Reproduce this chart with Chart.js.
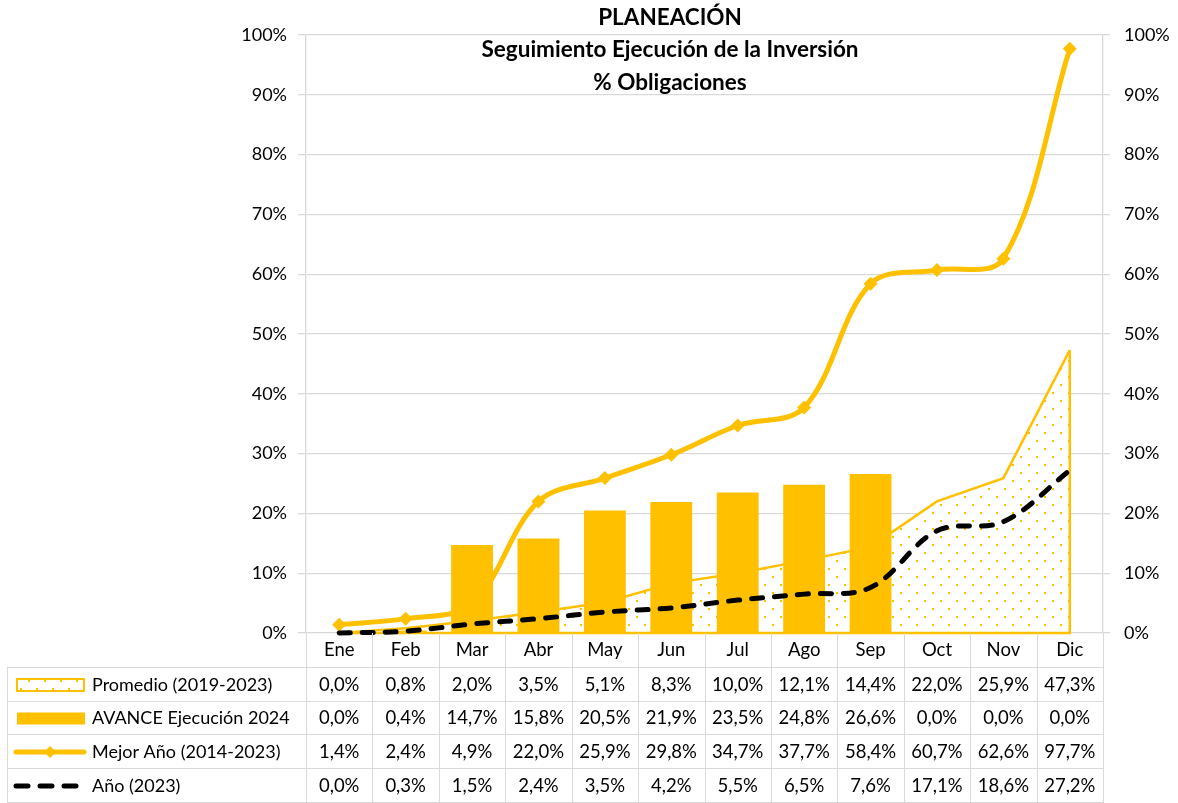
<!DOCTYPE html>
<html>
<head>
<meta charset="utf-8">
<script src="https://cdn.jsdelivr.net/npm/chart.js@4"></script>
<style>
html,body{margin:0;padding:0;background:#fff;}
#wrap{position:relative;width:1178px;height:803px;}
</style>
</head>
<body>
<div id="wrap"><canvas id="c" width="1178" height="803"></canvas></div>
<script>
const categories = ['Ene','Feb','Mar','Abr','May','Jun','Jul','Ago','Sep','Oct','Nov','Dic'];
const promedio = [0.0, 0.8, 2.0, 3.5, 5.1, 8.3, 10.0, 12.1, 14.4, 22.0, 25.9, 47.3];
const avance2024 = [0.0, 0.4, 14.7, 15.8, 20.5, 21.9, 23.5, 24.8, 26.6, 0.0, 0.0, 0.0];
const mejorAnio = [1.4, 2.4, 4.9, 22.0, 25.9, 29.8, 34.7, 37.7, 58.4, 60.7, 62.6, 97.7];
const anio2023 = [0.0, 0.3, 1.5, 2.4, 3.5, 4.2, 5.5, 6.5, 7.6, 17.1, 18.6, 27.2];
const seriesNames = ['Promedio (2019-2023)', 'AVANCE Ejecución 2024', 'Mejor Año (2014-2023)', 'Año (2023)'];
const titleLines = ['PLANEACIÓN', 'Seguimiento Ejecución de la Inversión', '% Obligaciones'];
const yTicks = [0,10,20,30,40,50,60,70,80,90,100];

const YELLOW = '#FFC000';
const GRID = '#d9d9d9';
const FONT = 'Lato, "Open Sans", sans-serif';

function makePattern(ctx){
  const p = document.createElement('canvas');
  p.width = 16; p.height = 16;
  const g = p.getContext('2d');
  g.fillStyle = '#ffffff';
  g.fillRect(0,0,16,16);
  g.fillStyle = YELLOW;
  g.fillRect(4,0,2,2);
  g.fillRect(12,8,2,2);
  return ctx.createPattern(p, 'repeat');
}

const canvas = document.getElementById('c');
const ctx = canvas.getContext('2d');
const pattern = makePattern(ctx);

function fmt(v){ return v.toFixed(1).replace('.', ',') + '%'; }

const areaBorderPlugin = {
  id: 'areaBorder',
  afterDatasetDraw(chart, args){
    if (args.index !== 0) return;
    const meta = chart.getDatasetMeta(0);
    const pts = meta.data;
    const y0 = chart.scales.y.getPixelForValue(0);
    const c = chart.ctx;
    c.save();
    c.strokeStyle = YELLOW;
    c.lineWidth = 2.5;
    c.beginPath();
    const last = pts[pts.length-1];
    c.moveTo(last.x, last.y);
    c.lineTo(last.x, y0);
    c.lineTo(pts[0].x, y0);
    c.stroke();
    c.restore();
  }
};

const tablePlugin = {
  id: 'tableAndTitle',
  afterDraw(chart){
    const c = chart.ctx;
    const xs = chart.scales.x;
    const area = chart.chartArea;
    const n = categories.length;
    const cw = (area.right - area.left) / n;
    const top = area.bottom;
    const rowTops = [668, 702, 735, 769, 803];
    const legendLeft = 7;
    c.save();
    // title
    c.fillStyle = '#000';
    c.textAlign = 'center';
    c.textBaseline = 'middle';
    c.font = 'bold 22.5px ' + FONT;
    const titleY = [18, 50, 83];
    titleLines.forEach((t,i)=> c.fillText(t, 670, titleY[i]));

    // table grid
    c.strokeStyle = GRID;
    c.lineWidth = 1;
    c.beginPath();
    for (let i = 0; i <= n; i++){
      const x = Math.round(area.left + i*cw) + 0.5;
      c.moveTo(x, top); c.lineTo(x, 803);
    }
    rowTops.forEach(y=>{
      const yy = Math.round(y) - 0.5;
      c.moveTo(legendLeft, yy); c.lineTo(area.right, yy);
    });
    c.moveTo(legendLeft + 0.5, rowTops[0]); c.lineTo(legendLeft + 0.5, 803);
    c.stroke();

    // month header
    c.fillStyle = '#000';
    c.font = '18.5px ' + FONT;
    c.textAlign = 'center';
    categories.forEach((m,i)=> c.fillText(m, xs.getPixelForValue(i), 650));

    // rows
    const rows = [promedio, avance2024, mejorAnio, anio2023];
    rows.forEach((vals, r)=>{
      const yc = (rowTops[r] + rowTops[r+1]) / 2;
      c.textAlign = 'center';
      vals.forEach((v,i)=> c.fillText(fmt(v), xs.getPixelForValue(i), yc));
      c.textAlign = 'left';
      c.font = '18px ' + FONT;
      c.fillText(seriesNames[r], 92, yc);
      c.font = '18.5px ' + FONT;
      // legend keys
      if (r === 0){
        c.fillStyle = pattern;
        c.fillRect(17, yc-6, 67, 12);
        c.strokeStyle = YELLOW; c.lineWidth = 2;
        c.strokeRect(17, yc-6, 67, 12);
        c.fillStyle = '#000';
      } else if (r === 1){
        c.fillStyle = YELLOW;
        c.fillRect(17, yc-6, 68, 12);
        c.fillStyle = '#000';
      } else if (r === 2){
        c.strokeStyle = YELLOW; c.lineWidth = 5; c.lineCap = 'round';
        c.beginPath(); c.moveTo(16, yc); c.lineTo(84, yc); c.stroke();
        c.fillStyle = YELLOW;
        c.beginPath();
        c.moveTo(50, yc-6); c.lineTo(56, yc); c.lineTo(50, yc+6); c.lineTo(44, yc); c.closePath(); c.fill();
        c.fillStyle = '#000';
      } else {
        c.strokeStyle = '#000'; c.lineWidth = 5; c.lineCap = 'round';
        c.setLineDash([12, 12]);
        c.beginPath(); c.moveTo(16, yc); c.lineTo(84, yc); c.stroke();
        c.setLineDash([]);
      }
    });
    c.restore();
  }
};

new Chart(canvas, {
  data: {
    labels: categories,
    datasets: [
      {
        type: 'line', label: seriesNames[0], data: promedio,
        borderColor: YELLOW, borderWidth: 2.5, backgroundColor: pattern,
        fill: 'origin', tension: 0, pointRadius: 0, order: 4
      },
      {
        type: 'bar', label: seriesNames[1], data: avance2024,
        backgroundColor: YELLOW, borderWidth: 0,
        categoryPercentage: 1, barPercentage: 0.63, order: 3
      },
      {
        type: 'line', label: seriesNames[2], data: mejorAnio,
        borderColor: YELLOW, borderWidth: 5, backgroundColor: YELLOW,
        tension: 0.35, pointStyle: 'rectRot', pointRadius: 7,
        pointBackgroundColor: YELLOW, pointBorderWidth: 0, fill: false, order: 2, clip: false
      },
      {
        type: 'line', label: seriesNames[3], data: anio2023,
        borderColor: '#000', borderWidth: 5, borderDash: [11, 12], borderCapStyle: 'round',
        tension: 0.35, pointRadius: 0, fill: false, order: 1, clip: false
      }
    ]
  },
  options: {
    responsive: false,
    animation: false,
    devicePixelRatio: 1,
    layout: { padding: { top: 35, bottom: 170, left: 0, right: 0 } },
    plugins: { legend: { display: false }, tooltip: { enabled: false }, title: { display: false } },
    scales: {
      x: { display: false, offset: true, grid: { display: false } },
      y: {
        position: 'left', min: 0, max: 100,
        afterFit(s){ s.width = 306; },
        afterBuildTicks(s){ s.ticks = yTicks.map(v=>({value:v})); },
        ticks: { callback: v => v + '%', font: { family: FONT, size: 18 }, color: '#000', padding: 11 },
        grid: { color: GRID, tickLength: 8, lineWidth: 1.3 },
        border: { display: true, color: GRID, width: 1.3 }
      },
      y2: {
        position: 'right', min: 0, max: 100,
        afterFit(s){ s.width = 75; },
        afterBuildTicks(s){ s.ticks = yTicks.map(v=>({value:v})); },
        ticks: { callback: v => v + '%', font: { family: FONT, size: 18 }, color: '#000', padding: 14 },
        grid: { drawOnChartArea: false, color: GRID, tickLength: 7, lineWidth: 1.3 },
        border: { display: true, color: GRID, width: 1.3 }
      }
    }
  },
  plugins: [areaBorderPlugin, tablePlugin]
});
</script>
</body>
</html>
